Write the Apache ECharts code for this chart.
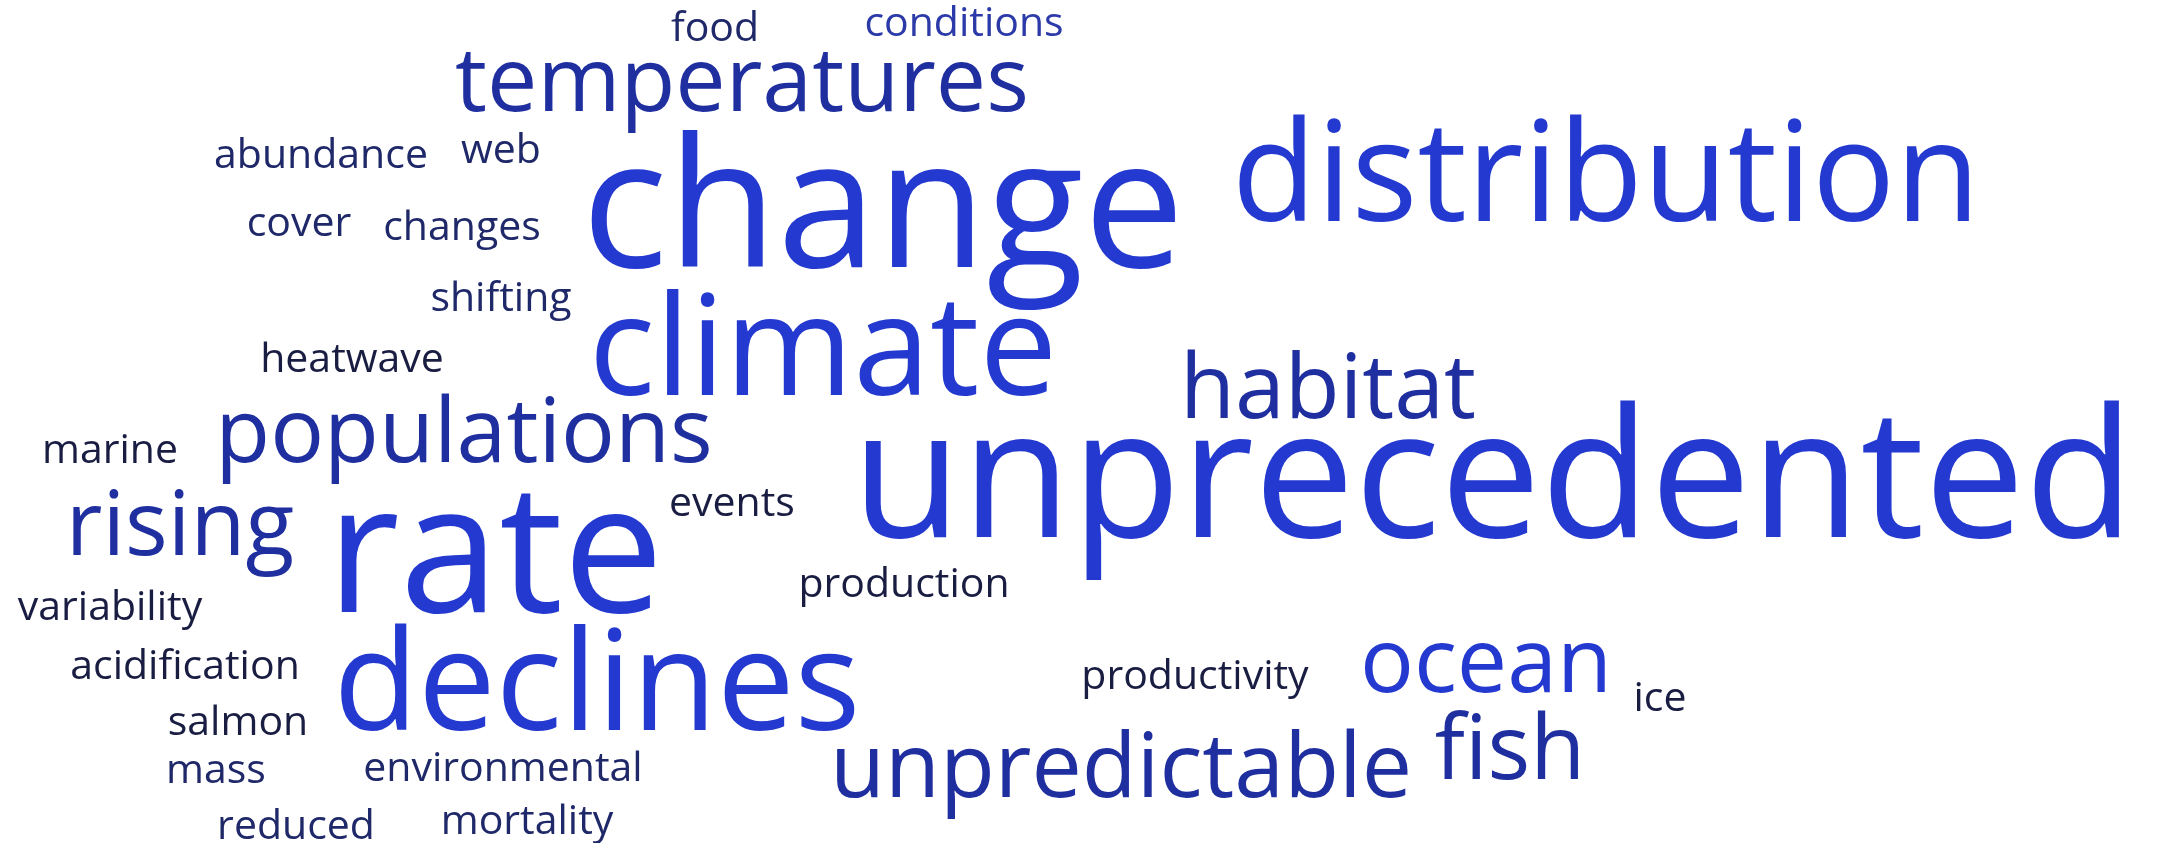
<!DOCTYPE html>
<html>
<head>
<meta charset="utf-8">
<script src="https://cdn.jsdelivr.net/npm/echarts@6/dist/echarts.min.js"></script>
<style>
  html, body { margin: 0; padding: 0; background: #ffffff; }
  #chart { width: 2166px; height: 843px; }
</style>
</head>
<body>
<div id="chart"></div>
<script>
// ---- data ----
const words = [
  'change', 'rate', 'unprecedented',
  'distribution', 'climate', 'declines',
  'temperatures', 'habitat', 'populations', 'rising', 'unpredictable', 'ocean', 'fish',
  'food', 'conditions', 'abundance', 'web', 'cover', 'changes', 'shifting', 'heatwave',
  'marine', 'events', 'production', 'variability', 'acidification', 'salmon', 'mass',
  'environmental', 'reduced', 'mortality', 'productivity', 'ice'
];
const weights = [
  21, 21, 21,
  16, 16, 16,
  10, 10, 10, 10, 10, 10, 10,
  4, 4, 4, 4, 4, 4, 4, 4,
  4, 4, 4, 4, 4, 4, 4,
  4, 4, 4, 4, 4
];
// colour tone of each word (index into the palette below)
const tones = [
  0, 0, 0,
  0, 0, 0,
  1, 1, 1, 1, 1, 0, 1,
  3, 2, 3, 3, 3, 3, 3, 4,
  4, 4, 4, 4, 4, 4, 3,
  3, 3, 3, 4, 4
];

// ---- layout of the cloud (word centre x, baseline y, in pixels) ----
const layoutX = [
  883, 495, 1493,
  1606, 823, 597,
  742, 1328, 464, 180, 1121, 1486, 1510,
  715, 964, 321, 501, 299, 462, 501, 352,
  110, 732, 904, 110, 185, 238, 216,
  503, 296, 527, 1195, 1660
];
const layoutY = [
  263, 608, 533,
  218, 392, 727,
  109, 416, 460, 553, 795, 690, 777,
  40, 35, 167, 162, 235, 239, 310, 371,
  462, 515, 596, 619, 678, 734, 782,
  780, 838, 833, 688, 710
];

// ---- styles ----
const palette = ['#2339cf', '#1f2f9f', '#2b3aa8', '#1f2868', '#1a1d42'];
const sizeMin = 41, sizeMax = 179;
const wMin = Math.min(...weights), wMax = Math.max(...weights);
const fontFamily = '"Open Sans", sans-serif';
const middleAboveBaseline = 0.2625; // Open Sans (typoAscent - typoDescent) / 2

function fontSizeOf(w) {
  return sizeMin + (w - wMin) / (wMax - wMin) * (sizeMax - sizeMin);
}

const seriesData = words.map((w, i) => {
  const fs = fontSizeOf(weights[i]);
  return {
    name: w,
    value: [layoutX[i], layoutY[i], weights[i]],
    label: {
      fontSize: fs,
      color: palette[tones[i]],
      offset: [0, -middleAboveBaseline * fs]
    }
  };
});

const chart = echarts.init(document.getElementById('chart'), null, { renderer: 'canvas' });
chart.setOption({
  animation: false,
  backgroundColor: '#ffffff',
  grid: { left: 0, right: 0, top: 0, bottom: 0 },
  xAxis: { type: 'value', min: 0, max: 2166, show: false },
  yAxis: { type: 'value', min: 0, max: 843, inverse: true, show: false },
  series: [{
    type: 'scatter',
    silent: true,
    symbolSize: 0,
    itemStyle: { opacity: 1 },
    data: seriesData,
    label: {
      show: true,
      position: 'inside',
      align: 'center',
      verticalAlign: 'middle',
      fontFamily: fontFamily,
      fontWeight: 'normal',
      opacity: 1,
      formatter: p => p.name
    },
    emphasis: { disabled: true }
  }]
});
</script>
</body>
</html>
